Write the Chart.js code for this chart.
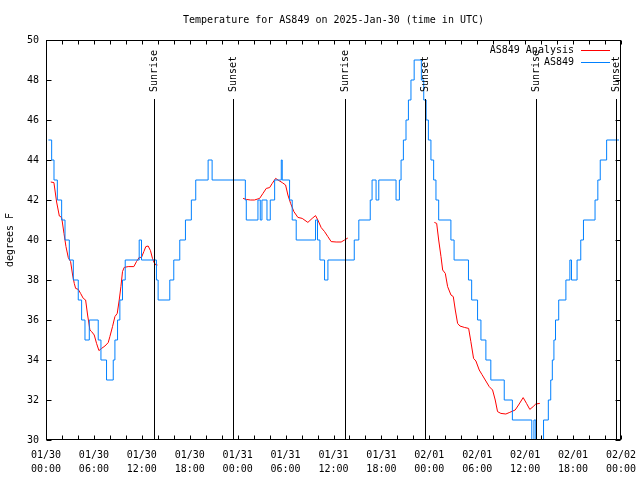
<!DOCTYPE html>
<html>
<head>
<meta charset="utf-8">
<script src="https://cdn.jsdelivr.net/npm/chart.js@4.4.1/dist/chart.umd.min.js"></script>
<style>
  html, body { margin: 0; padding: 0; background: #fff; }
</style>
</head>
<body>
<canvas id="chart" width="640" height="480"></canvas>
<script>
// hours since 2025-01-30 00:00 UTC
const obsHours = [0.3, 0.71, 1.0, 1.42, 1.96, 2.38, 2.92, 3.42, 4.04, 4.46, 4.88, 5.42, 6.54, 6.88, 7.58,
  8.42, 8.63, 8.96, 9.25, 9.58, 9.92, 11.67, 11.96, 13.83, 14.04, 15.5, 16.0, 16.75, 17.46, 18.2, 18.75,
  20.3, 20.8, 24.96, 25.08, 26.54, 26.83, 27.04, 27.67, 28.08, 28.63, 29.46, 29.58, 30.5, 30.83, 31.33,
  33.75, 34.0, 34.3, 34.88, 35.3, 38.6, 39.17, 40.6, 40.83, 41.33, 41.67, 43.83, 44.25, 44.46, 44.75,
  45.08, 45.38, 45.7, 46.1, 47.0, 47.3, 47.6, 47.88, 48.2, 48.54, 48.83, 49.17, 50.7, 51.1, 52.9, 53.3,
  54.04, 54.46, 55.08, 55.7, 57.38, 58.4, 60.83, 61.1, 61.33, 62.3, 62.9, 63.2, 63.4, 63.6, 63.8, 64.2,
  65.1, 65.6, 65.8, 66.5, 66.96, 67.3, 68.75, 69.1, 69.4, 70.2, 71.75];
const obsTemps = [45, 44, 43, 42, 41, 40, 39, 38, 37, 36, 35, 36, 35, 34, 33,
  34, 35, 36, 37, 38, 39, 40, 39, 38, 37, 38, 39, 40, 41, 42, 43,
  44, 43, 42, 41, 42, 41, 42, 41, 42, 43, 44, 43, 42, 41, 40,
  41, 40, 39, 38, 39, 40, 41, 42, 43, 42, 43, 42, 43, 44, 45,
  46, 47, 48, 49, 48, 47, 46, 45, 44, 43, 42, 41, 40, 39, 38, 37,
  36, 35, 34, 33, 32, 31, 30, 31, 30, 31, 32, 33, 34, 35, 36, 37,
  38, 39, 38, 39, 40, 41, 42, 43, 44, 45, 45];

// analysis series, null = gap between runs
const anaHours = [0.6, 0.99, 1.33, 1.67, 1.96, 2.25, 2.5, 2.79, 3.08, 3.33, 3.54, 3.71, 4.04, 4.33, 4.67,
  4.96, 5.21, 5.5, 5.71, 6.04, 6.33, 6.63, 6.96, 7.38, 7.79, 8.0, 8.33, 8.63, 8.92, 9.17, 9.38, 9.58,
  9.79, 10.29, 11.0, 11.33, 11.67, 11.96, 12.25, 12.5, 12.79, 13.08, 13.33, 13.54, 13.75, 13.96,
  19.0,
  24.67, 25.08, 25.58, 26.1, 26.75, 27.17, 27.58, 28.0, 28.33, 28.75, 29.17, 29.58, 30.0, 30.29, 30.63,
  31.04, 31.54, 32.08, 32.79, 33.33, 33.75, 34.04, 34.46, 34.88, 35.29, 35.71, 36.33, 36.96, 37.38, 37.79,
  43.0,
  48.63, 48.92, 49.17, 49.46, 49.67, 50.0, 50.29, 50.71, 51.0, 51.25, 51.54, 51.83, 52.38, 52.92, 53.2,
  53.54, 53.83, 54.25, 54.58, 55.0, 55.5, 55.92, 56.25, 56.54, 56.96, 57.58, 58.0, 58.75, 59.17, 59.75,
  60.17, 60.58, 61.0, 61.33, 61.83];
const anaTemps = [42.9, 42.87, 41.9, 41.2, 41.13, 40.33, 39.67, 39.12, 38.92, 38.25, 37.83, 37.58, 37.53, 37.33, 37.08,
  37.0, 36.25, 35.5, 35.42, 35.25, 34.83, 34.47, 34.58, 34.7, 34.87, 35.17, 35.67, 36.17, 36.33, 37.0, 37.67, 38.42,
  38.63, 38.67, 38.67, 38.92, 39.13, 39.13, 39.42, 39.67, 39.7, 39.47, 39.08, 38.87, 38.75, 38.75,
  null,
  42.08, 42.03, 42.0, 42.0, 42.08, 42.33, 42.58, 42.62, 42.83, 43.08, 42.97, 42.87, 42.75, 42.25, 41.83,
  41.42, 41.13, 41.08, 40.88, 41.08, 41.22, 41.0, 40.62, 40.42, 40.17, 39.92, 39.9, 39.9, 40.0, 40.1,
  null,
  40.88, 40.83, 40.0, 39.17, 38.5, 38.33, 37.67, 37.25, 37.17, 36.5, 35.83, 35.7, 35.63, 35.58, 34.92,
  34.08, 33.95, 33.5, 33.28, 33.0, 32.67, 32.5, 32.0, 31.42, 31.33, 31.3, 31.37, 31.5, 31.75, 32.12,
  31.83, 31.53, 31.67, 31.8, 31.83];

const sunHours = [13.52, 23.41, 37.45, 47.41, 61.41, 71.41];
const sunLabels = ['Sunrise', 'Sunset', 'Sunrise', 'Sunset', 'Sunrise', 'Sunset'];

const titleText = 'Temperature for AS849 on 2025-Jan-30 (time in UTC)';
const startUtc = Date.UTC(2025, 0, 30);
const FONT = "'DejaVu Sans Mono', 'Liberation Mono', monospace";

Chart.defaults.font.family = FONT;
Chart.defaults.font.size = 10;
Chart.defaults.color = '#000';

function pad2(n) { return String(n).padStart(2, '0'); }

function timeLabel(h) {
  const d = new Date(startUtc + h * 3600000);
  return [pad2(d.getUTCMonth() + 1) + '/' + pad2(d.getUTCDate()),
          pad2(d.getUTCHours()) + ':' + pad2(d.getUTCMinutes())];
}

function toPoints(xs, ys) {
  return xs.map((x, i) => ({ x: x, y: ys[i] }));
}

// gnuplot-ish frame: title over plot, border, inward ticks, sun lines, legend
const framePlugin = {
  id: 'frame',
  afterDraw(chart) {
    const { ctx, chartArea: a, scales } = chart;
    const x = scales.x, y = scales.y;
    const L = Math.round(a.left) + 0.5, R = Math.round(a.right) - 0.5;
    const T = Math.round(a.top) + 0.5, B = Math.round(a.bottom) - 0.5;
    ctx.save();
    ctx.strokeStyle = '#000';
    ctx.lineWidth = 1;
    ctx.font = '10px ' + FONT;
    ctx.fillStyle = '#000';

    ctx.textAlign = 'center';
    ctx.textBaseline = 'middle';
    ctx.fillText(titleText, (a.left + a.right) / 2, a.top - 20);

    ctx.beginPath();
    for (let h = x.min; h <= x.max; h += 2) {
      const px = Math.round(x.getPixelForValue(h)) + 0.5;
      ctx.moveTo(px, B); ctx.lineTo(px, B - 4);
      ctx.moveTo(px, T); ctx.lineTo(px, T + 4);
    }
    for (let t = y.min; t <= y.max; t += 2) {
      const py = Math.round(y.getPixelForValue(t)) + 0.5;
      ctx.moveTo(L, py); ctx.lineTo(L + 5, py);
      ctx.moveTo(R, py); ctx.lineTo(R - 5, py);
    }
    ctx.stroke();

    sunHours.forEach((h, i) => {
      const px = Math.round(x.getPixelForValue(h)) + 0.5;
      ctx.beginPath();
      ctx.moveTo(px, a.top + 59);
      ctx.lineTo(px, B);
      ctx.stroke();
      ctx.save();
      ctx.translate(px, a.top + 52);
      ctx.rotate(-Math.PI / 2);
      ctx.textAlign = 'left';
      ctx.textBaseline = 'middle';
      ctx.fillText(sunLabels[i], 0, 0);
      ctx.restore();
    });

    ctx.strokeRect(L, T, R - L, B - T);

    // legend, text left of the sample
    ctx.textAlign = 'right';
    ctx.textBaseline = 'middle';
    chart.data.datasets.forEach((ds, i) => {
      const ly = a.top + 10 + i * 12;
      ctx.fillStyle = '#000';
      ctx.fillText(ds.label, a.right - 47, ly);
      ctx.strokeStyle = ds.borderColor;
      ctx.beginPath();
      ctx.moveTo(a.right - 40, Math.round(ly) + 0.5);
      ctx.lineTo(a.right - 11, Math.round(ly) + 0.5);
      ctx.stroke();
    });
    ctx.restore();
  }
};

new Chart(document.getElementById('chart'), {
  type: 'line',
  data: {
    datasets: [
      {
        label: 'AS849 Analysis',
        data: toPoints(anaHours, anaTemps),
        borderColor: 'rgb(255,0,0)',
        borderWidth: 1,
        pointRadius: 0,
        spanGaps: false,
        order: 1
      },
      {
        label: 'AS849',
        data: toPoints(obsHours, obsTemps),
        borderColor: 'rgb(0,128,255)',
        borderWidth: 1,
        pointRadius: 0,
        stepped: true,
        order: 0
      }
    ]
  },
  options: {
    responsive: false,
    animation: false,
    events: [],
    layout: { padding: { top: 40, right: 19, bottom: 0, left: 0 } },
    plugins: {
      legend: { display: false },
      tooltip: { enabled: false },
      title: { display: false }
    },
    scales: {
      x: {
        type: 'linear',
        min: 0,
        max: 72,
        grid: { display: false, drawTicks: false },
        border: { display: false },
        ticks: {
          stepSize: 6,
          padding: 8,
          maxRotation: 0,
          autoSkip: false,
          font: { size: 10, lineHeight: 1.4 },
          callback: v => timeLabel(v)
        },
        afterFit: s => { s.height = 40; s.paddingLeft = 0; s.paddingRight = 0; }
      },
      y: {
        min: 30,
        max: 50,
        grid: { display: false, drawTicks: false },
        border: { display: false },
        ticks: { stepSize: 2, padding: 7 },
        title: { display: true, text: 'degrees F', padding: { top: 4, bottom: 0 } },
        afterFit: s => { s.width = 46; s.paddingTop = 0; s.paddingBottom = 0; }
      }
    }
  },
  plugins: [framePlugin]
});
</script>
</body>
</html>
